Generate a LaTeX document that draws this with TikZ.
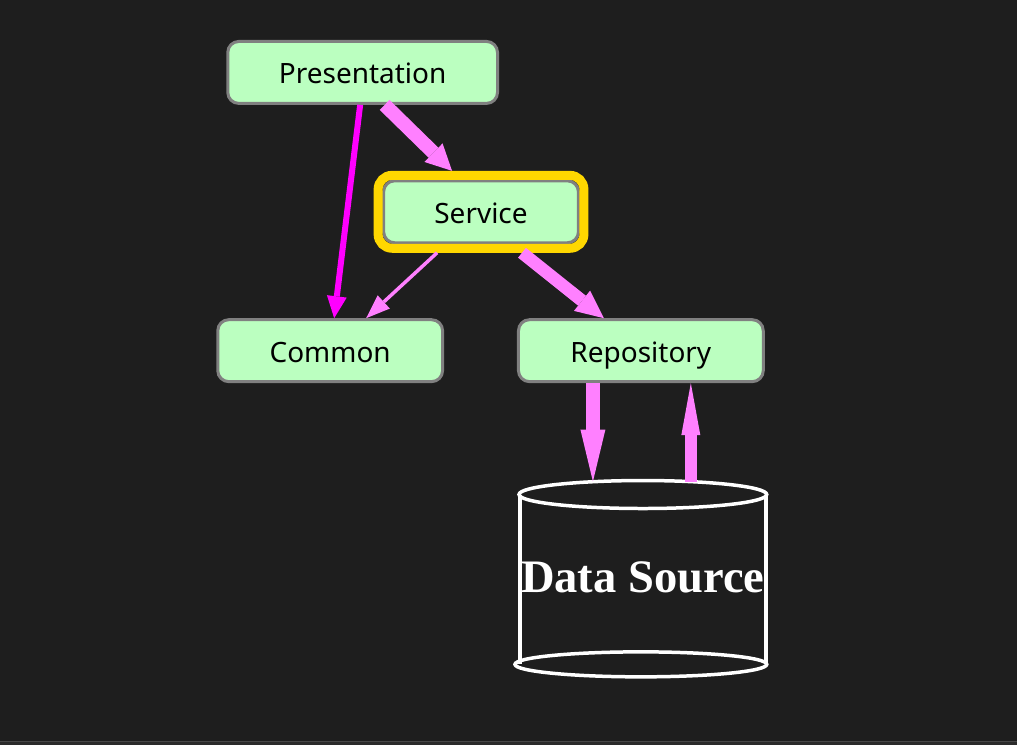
\documentclass[tikz,border=0pt]{standalone}
\usepackage{fontspec}
\setmainfont{Noto Sans}
\newfontfamily\dsfont{Liberation Serif}
\usepackage{tikz}
\usetikzlibrary{arrows.meta}
\usetikzlibrary{fit}

\definecolor{bgdark}{HTML}{1E1E1E}
\definecolor{stripgray}{HTML}{2B2B2B}
\definecolor{stripline}{HTML}{474747}
\definecolor{boxgreen}{HTML}{BBFFC0}
\definecolor{boxgray}{HTML}{808080}
\definecolor{ringgold}{HTML}{FFD700}
\definecolor{hotpink}{HTML}{FF00FF}
\definecolor{softpink}{HTML}{FF80FF}

\tikzset{
    layer/.style={draw=boxgray, fill=boxgreen, line width=1.5pt,
        rounded corners=5.5pt, inner sep=0pt, minimum height=31pt,
        text height=14.5pt, text depth=3pt,
        font=\fontsize{14}{16}\selectfont},
    dbline/.style={draw=white, line width=1.75pt},
    uses/.style={draw=hotpink, line width=3pt,
        -{Triangle[length=11pt,width=10pt,line width=0pt]}},
    calls/.style={draw=softpink, line width=#1},
}

\begin{document}
\begin{tikzpicture}[x=0.5pt,y=-0.5pt]
    % background
    \fill[bgdark] (0,0) rectangle (1017,746);
    \fill[stripgray] (0,742) rectangle (1017,746);
    \draw[stripline, line width=0.5pt] (0,742) -- (1017,742);

    % layers
    \node[layer, minimum width=135pt] (presentation) at (362.5,72.5) {Presentation};
    \node[layer, minimum width=97.5pt] (service) at (481,212) {Service};
    \node[layer, minimum width=112.5pt] (common) at (330,351) {Common};
    \node[layer, minimum width=122.5pt] (repository) at (641,351) {Repository};
    \node[draw=ringgold, line width=4.5pt, rounded corners=7pt, inner sep=2pt,
        fit=(service)] (ring) {};

    % data source
    \draw[dbline] (520,495) -- (520,665);
    \draw[dbline] (766,495) -- (766,665);
    \draw[dbline] (643,495) ellipse [x radius=62pt, y radius=7pt];
    \draw[dbline] (641,665) ellipse [x radius=63pt, y radius=6.25pt];
    \coordinate (dbtop) at (643,482);
    \node[text=white, font=\dsfont\bfseries\fontsize{23.3}{26}\selectfont]
        (source) at (643,578) {Data Source};

    % dependencies
    \draw[uses] ([xshift=-1.25pt]presentation.south) -- ([xshift=2pt]common.north);
    \draw[calls=7pt, -{Triangle[length=13pt,width=13pt,line width=0pt]}]
        ([xshift=11pt]presentation.south) -- ([xshift=-14.5pt]ring.north);
    \draw[calls=1.75pt, -{Triangle[length=12pt,width=9pt,line width=0pt]}]
        ([xshift=-22pt]ring.south) -- ([xshift=18pt]common.north);
    \draw[calls=6.3pt, -{Triangle[length=14pt,width=13pt,line width=0pt]}]
        ([xshift=20.5pt]ring.south) -- ([xshift=-18.5pt]repository.north);
    \draw[calls=7.3pt, -{Triangle[length=26pt,width=12.5pt,line width=0pt]}]
        ([xshift=-24pt]repository.south) -- ([xshift=-25pt]dbtop);
    \draw[calls=6pt, -{Triangle[length=26pt,width=9.5pt,line width=0pt]}]
        ([xshift=24pt]dbtop) -- ([xshift=25pt]repository.south);
\end{tikzpicture}
\end{document}
